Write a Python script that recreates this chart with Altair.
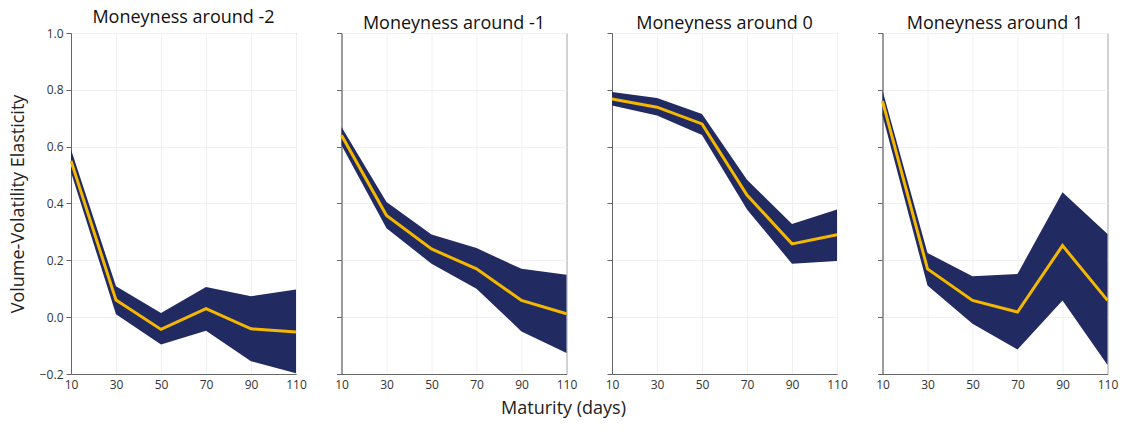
import altair as alt
import pandas as pd

maturity = [10, 30, 50, 70, 90, 110]

titles = ["Moneyness around -2", "Moneyness around -1", "Moneyness around 0", "Moneyness around 1"]

mean_m2 = [0.55, 0.06, -0.043, 0.03, -0.041, -0.052]
low_m2 = [0.51, 0.01, -0.096, -0.048, -0.155, -0.197]
high_m2 = [0.59, 0.109, 0.015, 0.106, 0.074, 0.097]

mean_m1 = [0.64, 0.358, 0.24, 0.17, 0.059, 0.012]
low_m1 = [0.605, 0.313, 0.188, 0.1, -0.05, -0.126]
high_m1 = [0.669, 0.405, 0.291, 0.243, 0.17, 0.149]

mean_0 = [0.768, 0.739, 0.68, 0.43, 0.258, 0.29]
low_0 = [0.745, 0.71, 0.641, 0.379, 0.188, 0.198]
high_0 = [0.792, 0.771, 0.715, 0.484, 0.328, 0.379]

mean_p1 = [0.76, 0.17, 0.059, 0.018, 0.252, 0.059]
low_p1 = [0.71, 0.111, -0.023, -0.114, 0.059, -0.168]
high_p1 = [0.798, 0.226, 0.144, 0.152, 0.44, 0.293]

series = [
    (mean_m2, low_m2, high_m2),
    (mean_m1, low_m1, high_m1),
    (mean_0, low_0, high_0),
    (mean_p1, low_p1, high_p1),
]

BAND = "#222a62"
LINE = "#f5b800"
FONT = "Open Sans"

x_ticks = maturity
y_ticks = [-0.2, 0.0, 0.2, 0.4, 0.6, 0.8, 1.0]

panels = []
for i, (title, (m, lo, hi)) in enumerate(zip(titles, series)):
    df = pd.DataFrame({"maturity": maturity, "mean": m, "low": lo, "high": hi})
    first = i == 0
    x = alt.X(
        "maturity:Q",
        scale=alt.Scale(domain=[10, 110], nice=False, zero=False),
        axis=alt.Axis(values=x_ticks, title=None, ticks=False, labelPadding=5,
                      labelFlush=False, format="d"),
    )
    y_axis = alt.Axis(
        values=y_ticks,
        format=".1f",
        title="Volume-Volatility Elasticity" if first else None,
        labels=first,
        labelFlush=False,
        tickSize=5,
        labelPadding=3,
        titlePadding=12,
    )
    yscale = alt.Scale(domain=[-0.2, 1.0], nice=False, zero=False)
    band = alt.Chart(df).mark_area(color=BAND, opacity=1).encode(
        x=x, y=alt.Y("low:Q", scale=yscale, axis=y_axis), y2="high:Q"
    )
    line = alt.Chart(df).mark_line(color=LINE, strokeWidth=3).encode(
        x=x,
        y=alt.Y("mean:Q", scale=yscale, axis=y_axis),
    )
    panel = alt.layer(band, line).properties(
        width=225,
        height=341,
        title=alt.TitleParams(title, fontSize=18, font=FONT, fontWeight="normal",
                              color="#111", offset=0),
    )
    panels.append(panel)

chart = alt.hconcat(*panels, spacing=45.5).properties(
    bounds="flush",
    padding={"left": 0, "top": 0, "right": 0, "bottom": 0},
    title=alt.TitleParams("Maturity (days)", orient="bottom", anchor="middle", fontSize=18,
                          font=FONT, fontWeight="normal", color="#222", offset=9),
).configure_view(
    stroke="#666", strokeWidth=1
).configure_axis(
    labelFont=FONT, labelFontSize=12, labelColor="#333",
    titleFont=FONT, titleFontSize=18, titleFontWeight="normal", titleColor="#222",
    domainColor="#666", tickColor="#666", gridColor="#f0f0f0", gridWidth=1,
)

chart.save("out.html", embed_options={"renderer": "svg", "actions": False})
